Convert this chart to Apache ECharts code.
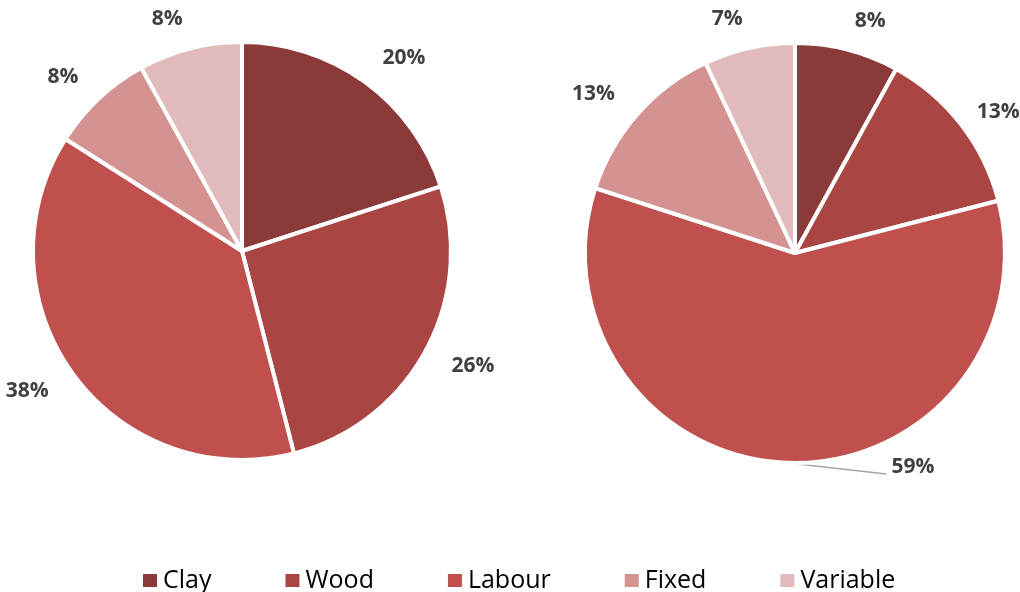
<!DOCTYPE html>
<html>
<head>
<meta charset="utf-8">
<script src="https://cdn.jsdelivr.net/npm/echarts@6/dist/echarts.min.js"></script>
<style>
  html, body { margin: 0; padding: 0; background: #fff; }
  #chart { width: 1020px; height: 592px; }
</style>
</head>
<body>
<div id="chart"></div>
<script>
var categories = ['Clay', 'Wood', 'Labour', 'Fixed', 'Variable'];
var leftValues = [20, 26, 38, 8, 8];
var rightValues = [8, 13, 59, 13, 7];
var colors = ['#8B3A3A', '#A94644', '#C0504D', '#D49291', '#E1BBBB'];

function toData(values, calloutIndex, shortIndex) {
    return values.map(function (v, i) {
        var item = { name: categories[i], value: v };
        if (i === calloutIndex) {
            item.labelLine = { show: true, lineStyle: { color: '#A6A6A6', width: 1.5 } };
        }
        if (i === shortIndex) {
            item.labelLine = { length: 20 };
        }
        return item;
    });
}

var labelStyle = {
    show: true,
    position: 'outside',
    formatter: '{c}%',
    color: '#404040',
    fontFamily: 'Open Sans',
    fontWeight: 'bold',
    fontSize: 21,
    distanceToLabelLine: 0
};

var chart = echarts.init(document.getElementById('chart'));
chart.setOption({
    animation: false,
    color: colors,
    legend: {
        data: categories,
        left: 136,
        top: 563,
        itemWidth: 16,
        itemHeight: 15,
        itemGap: 72,
        icon: 'rect',
        textStyle: { fontFamily: 'Open Sans', fontSize: 25, color: '#000' }
    },
    series: [
        {
            type: 'pie',
            center: [242, 251],
            radius: 209,
            startAngle: 90,
            clockwise: true,
            avoidLabelOverlap: false,
            itemStyle: { borderColor: '#fff', borderWidth: 4 },
            label: labelStyle,
            labelLine: { show: false, length: 30, length2: 0 },
            data: toData(leftValues, -1, -1)
        },
        {
            type: 'pie',
            center: [795, 253],
            radius: 210,
            startAngle: 90,
            clockwise: true,
            avoidLabelOverlap: false,
            itemStyle: { borderColor: '#fff', borderWidth: 4 },
            label: labelStyle,
            labelLine: { show: false, length: 30, length2: 0 },
            labelLayout: function (params) {
                if (params.dataIndex !== 2 || !params.labelLinePoints) {
                    return {};
                }
                var p0 = params.labelLinePoints[0];
                var p1 = [p0[0] + 98, p0[1] + 11];
                return {
                    x: p1[0] + 5,
                    y: p1[1] - 7,
                    align: 'left',
                    verticalAlign: 'middle',
                    labelLinePoints: [p0, p1, p1]
                };
            },
            data: toData(rightValues, 2, 1)
        }
    ]
});
</script>
</body>
</html>
